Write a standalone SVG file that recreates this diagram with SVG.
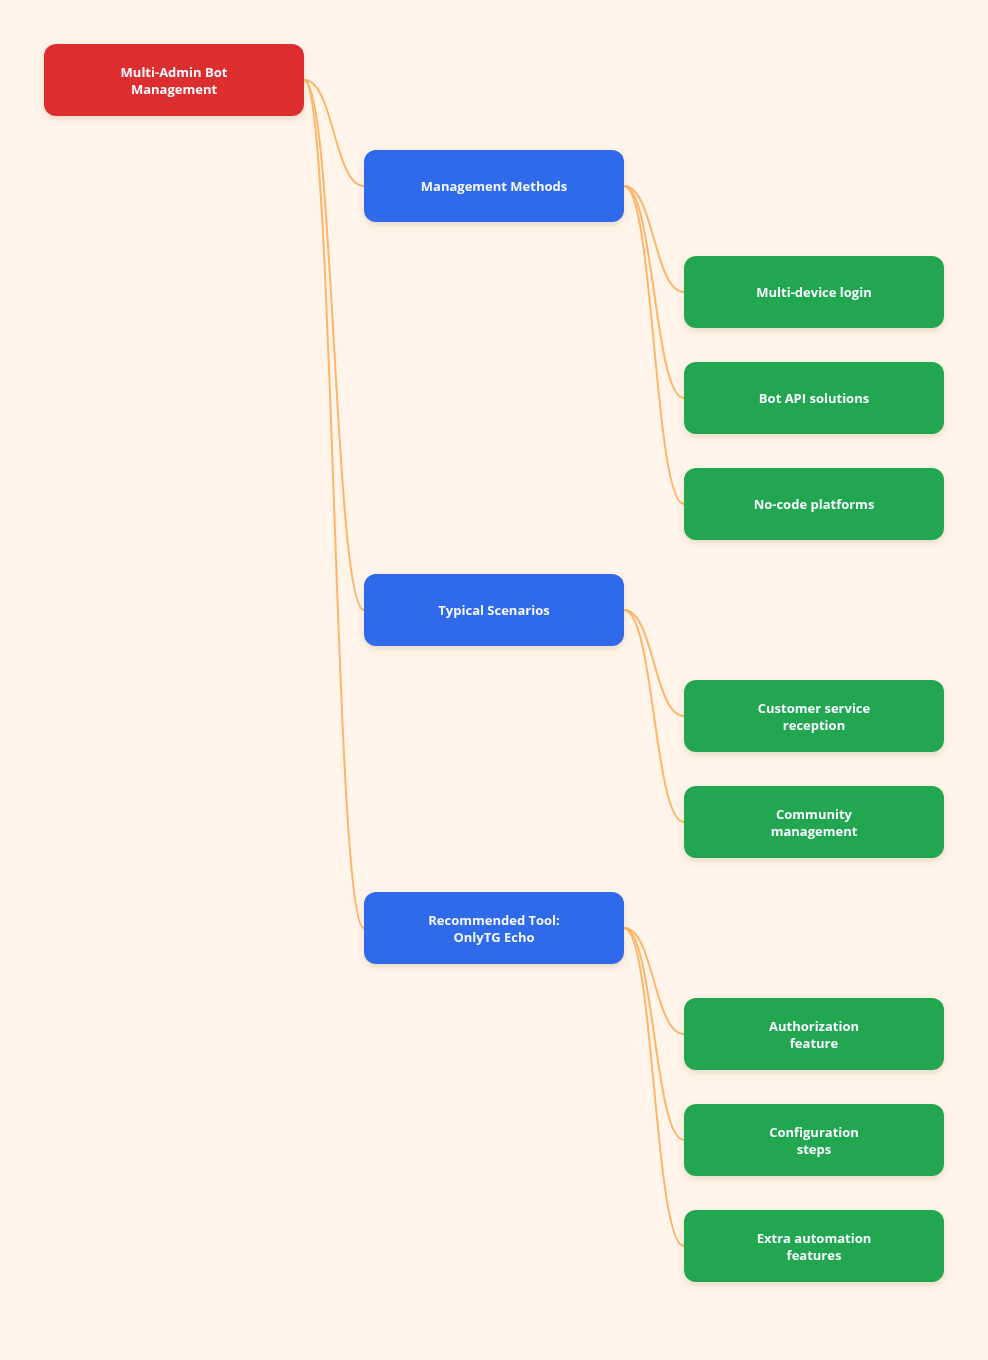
<svg xmlns="http://www.w3.org/2000/svg" width="988" height="1360" viewBox="0 0 988 1360">
<style>
text{font-family:"Open Sans","Liberation Sans",sans-serif;font-weight:700;font-size:13px;fill:#f5f8ff;text-anchor:middle}
.c path{fill:none;stroke:#fdb56a;stroke-width:2}
.r{fill:#dc2f2f}.b{fill:#2f6aea}.g{fill:#22a650}
</style>
<defs><filter id="s" x="-10%" y="-20%" width="120%" height="150%"><feDropShadow dx="0" dy="3" stdDeviation="3" flood-color="#8a5a2a" flood-opacity="0.18"/></filter></defs>
<rect width="988" height="1360" fill="#fff5eb"/>
<g class="c">
<path d="M304 80 C334 80 334 186 364 186"/>
<path d="M304 80 C334 80 334 610 364 610"/>
<path d="M304 80 C334 80 334 928 364 928"/>
<path d="M624 186 C654 186 654 292 684 292"/>
<path d="M624 186 C654 186 654 398 684 398"/>
<path d="M624 186 C654 186 654 504 684 504"/>
<path d="M624 610 C654 610 654 716 684 716"/>
<path d="M624 610 C654 610 654 822 684 822"/>
<path d="M624 928 C654 928 654 1034 684 1034"/>
<path d="M624 928 C654 928 654 1140 684 1140"/>
<path d="M624 928 C654 928 654 1246 684 1246"/>
</g>
<g id="root" filter="url(#s)"><rect class="r" x="44" y="44" width="260" height="72" rx="12"/><text x="174" y="77">Multi-Admin Bot</text><text x="174" y="94">Management</text></g>
<g id="methods" filter="url(#s)"><rect class="b" x="364" y="150" width="260" height="72" rx="12"/><text x="494" y="191">Management Methods</text></g>
<g id="scenarios" filter="url(#s)"><rect class="b" x="364" y="574" width="260" height="72" rx="12"/><text x="494" y="615">Typical Scenarios</text></g>
<g id="tool" filter="url(#s)"><rect class="b" x="364" y="892" width="260" height="72" rx="12"/><text x="494" y="925">Recommended Tool:</text><text x="494" y="942">OnlyTG Echo</text></g>
<g id="multidevice" filter="url(#s)"><rect class="g" x="684" y="256" width="260" height="72" rx="12"/><text x="814" y="297">Multi-device login</text></g>
<g id="botapi" filter="url(#s)"><rect class="g" x="684" y="362" width="260" height="72" rx="12"/><text x="814" y="403">Bot API solutions</text></g>
<g id="nocode" filter="url(#s)"><rect class="g" x="684" y="468" width="260" height="72" rx="12"/><text x="814" y="509">No-code platforms</text></g>
<g id="customer" filter="url(#s)"><rect class="g" x="684" y="680" width="260" height="72" rx="12"/><text x="814" y="713">Customer service</text><text x="814" y="730">reception</text></g>
<g id="community" filter="url(#s)"><rect class="g" x="684" y="786" width="260" height="72" rx="12"/><text x="814" y="819">Community</text><text x="814" y="836">management</text></g>
<g id="auth" filter="url(#s)"><rect class="g" x="684" y="998" width="260" height="72" rx="12"/><text x="814" y="1031">Authorization</text><text x="814" y="1048">feature</text></g>
<g id="config" filter="url(#s)"><rect class="g" x="684" y="1104" width="260" height="72" rx="12"/><text x="814" y="1137">Configuration</text><text x="814" y="1154">steps</text></g>
<g id="extra" filter="url(#s)"><rect class="g" x="684" y="1210" width="260" height="72" rx="12"/><text x="814" y="1243">Extra automation</text><text x="814" y="1260">features</text></g>
</svg>
